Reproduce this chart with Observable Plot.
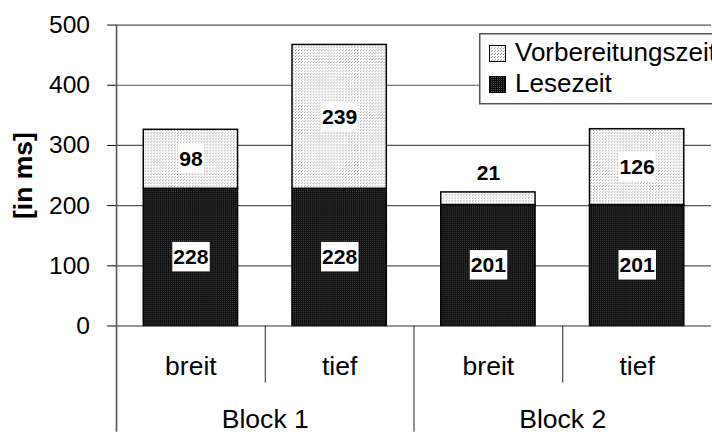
<!DOCTYPE html>
<html>
<head>
<meta charset="utf-8">
<script src="https://cdn.jsdelivr.net/npm/d3@7"></script>
<script src="https://cdn.jsdelivr.net/npm/@observablehq/plot@0.6"></script>
<style>
html, body { margin: 0; padding: 0; background: #fff; overflow: hidden; }
#wrap { position: relative; width: 712px; height: 439px; overflow: hidden; font-family: "Liberation Sans", Arial, sans-serif; }
#wrap > svg.chart { position: absolute; left: 0; top: 0; }
#wrap > svg.legend { position: absolute; left: 479px; top: 33px; }
</style>
</head>
<body>
<div id="wrap"></div>
<script>
// ---- data ----
const blocks = ["Block 1", "Block 2"];
const blockOf = ["Block 1", "Block 1", "Block 2", "Block 2"];
const subs = ["breit", "tief", "breit", "tief"];
const lesezeit = [228, 228, 201, 201];
const vorbereitung = [98, 239, 21, 126];
const series = ["Vorbereitungszeit", "Lesezeit"];
const seriesFill = {"Vorbereitungszeit": "url(#patLight)", "Lesezeit": "url(#patDark)"};
const yLabel = "[in ms]";

const rows = subs.map((s, i) => ({i, block: blockOf[i], sub: s, L: lesezeit[i], V: vorbereitung[i]}));
const blockRows = blocks.map(b => ({block: b, c: d3.mean(rows.filter(r => r.block === b), r => r.i) + 0.5}));
const innerSeps = rows.filter((r, i) => i > 0 && blockOf[i - 1] === r.block).map(r => r.i);
const blockSeps = rows.filter((r, i) => i > 0 && blockOf[i - 1] !== r.block).map(r => r.i);

const pad = 0.183;
const font = "Liberation Sans, Arial, sans-serif";

const chart = Plot.plot({
  width: 724, height: 439,
  marginLeft: 118, marginRight: 1, marginTop: 25, marginBottom: 108,
  x: {domain: [0, subs.length], axis: null},
  y: {domain: [0, 500], ticks: 5, tickSize: 9, tickPadding: 18, label: null},
  style: {fontFamily: font, fontSize: "25px", color: "#000", background: "transparent", overflow: "visible"},
  marks: [
    Plot.ruleY([100, 200, 300, 400, 500], {stroke: "#555", strokeWidth: 1.2}),
    Plot.rectY(rows, {x1: d => d.i + pad, x2: d => d.i + 1 - pad, y1: 0, y2: "L",
      fill: seriesFill["Lesezeit"], stroke: "#000", strokeWidth: 1.5}),
    Plot.rectY(rows, {x1: d => d.i + pad, x2: d => d.i + 1 - pad, y1: "L", y2: d => d.L + d.V,
      fill: seriesFill["Vorbereitungszeit"], stroke: "#000", strokeWidth: 1.5}),
    Plot.ruleY([0], {stroke: "#333", strokeWidth: 1.2}),
    Plot.ruleX([0], {stroke: "#555", strokeWidth: 1.6, insetBottom: -108}),
    Plot.ruleX(innerSeps, {y1: 0, y2: 0, insetBottom: -58, stroke: "#222", strokeWidth: 1}),
    Plot.ruleX(blockSeps, {y1: 0, y2: 0, insetBottom: -108, stroke: "#222", strokeWidth: 1}),
    Plot.text(rows, {x: d => d.i + 0.5, y: d => d.L / 2, text: d => String(d.L),
      fontWeight: "bold", fontSize: 21.5}),
    Plot.text(rows.filter(d => d.V >= 40), {x: d => d.i + 0.5, y: d => d.L + d.V / 2, text: d => String(d.V),
      fontWeight: "bold", fontSize: 21.5}),
    Plot.text(rows.filter(d => d.V < 40), {x: d => d.i + 0.5, y: d => d.L + d.V, dy: -19, text: d => String(d.V),
      fontWeight: "bold", fontSize: 21.5}),
    Plot.text(rows, {x: d => d.i + 0.5, text: "sub", frameAnchor: "bottom", textAnchor: "middle", lineAnchor: "bottom", dy: 50, fontSize: 27}),
    Plot.text(blockRows, {x: "c", text: "block", frameAnchor: "bottom", textAnchor: "middle", lineAnchor: "bottom", dy: 104, fontSize: 27}),
    Plot.text([yLabel], {text: d => d, frameAnchor: "left", textAnchor: "middle", lineAnchor: "middle", dx: -95, rotate: -90, fontWeight: 700, fontSize: 27})
  ]
});
chart.classList.add("chart");

const ns = "http://www.w3.org/2000/svg";
const defs = document.createElementNS(ns, "defs");
defs.innerHTML =
  '<pattern id="patDark" width="2" height="2" patternUnits="userSpaceOnUse">' +
  '<rect width="2" height="2" fill="#0b0b0b"/><rect width="1" height="1" fill="#4c4c4c"/></pattern>' +
  '<pattern id="patLight" width="3" height="3" patternUnits="userSpaceOnUse">' +
  '<rect width="3" height="3" fill="#ffffff"/><rect width="1" height="1" fill="#9a9a9a"/><rect x="1" y="2" width="1" height="1" fill="#b8b8b8"/></pattern>';
chart.insertBefore(defs, chart.firstChild);

const wrap = document.getElementById("wrap");
wrap.appendChild(chart);

// white boxes behind the value labels
chart.querySelectorAll('g[font-weight="bold"] text').forEach(t => {
  const bb = t.getBBox();
  const r = document.createElementNS(ns, "rect");
  const h = 30, w = bb.width + 2;
  r.setAttribute("x", bb.x + bb.width / 2 - w / 2);
  r.setAttribute("y", bb.y + bb.height / 2 - h / 2);
  r.setAttribute("width", w);
  r.setAttribute("height", h);
  r.setAttribute("fill", "#fff");
  const tr = t.getAttribute("transform");
  if (tr) r.setAttribute("transform", tr);
  t.parentNode.insertBefore(r, t);
});

// legend
const leg = document.createElementNS(ns, "svg");
leg.setAttribute("class", "legend");
leg.setAttribute("width", 260);
leg.setAttribute("height", 73);
let lh = '<rect x="0.75" y="0.75" width="300" height="70" fill="#fff" stroke="#555" stroke-width="1.5"/>';
series.forEach((s, k) => {
  const yy = 12 + k * 31;
  lh += `<rect x="10.5" y="${yy + 0.5}" width="16" height="16" fill="${seriesFill[s]}" stroke="#000" stroke-width="1"/>`;
  lh += `<text x="36" y="${yy + 16}" font-family="${font}" font-size="26" fill="#000">${s}</text>`;
});
leg.innerHTML = lh;
wrap.appendChild(leg);
</script>
</body>
</html>
